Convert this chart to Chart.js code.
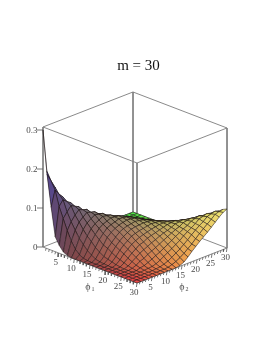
<!DOCTYPE html>
<html>
<head>
<meta charset="utf-8">
<title>m = 30</title>
<script src="https://cdn.jsdelivr.net/npm/chart.js@4"></script>
<style>
    html, body { margin: 0; background: #fff; }
    canvas { display: block; }
</style>
</head>
<body>
<canvas id="chartCanvas" width="277" height="358"></canvas>
<script>
// Grid positions along both axes
const phiGrid = [0, 1.3, 2.6, 3.9, 5.2, 6.5, 7.8, 9.1, 10.4, 11.7, 13, 14.3, 15.7, 17, 18.3, 19.6, 20.9, 22.2, 23.5, 24.8, 26.1, 27.4, 28.7, 30];

// Surface heights, one row per phi1 value, one column per phi2 value
const heightRows = [
    [.3, .19, .11, .038, .02, .007, .002, 0, 0, 0, 0, 0, 0, 0, 0, 0, 0, 0, 0, 0, 0, 0, 0, 0],
    [.19, .17, .15, .112, .085, .058, .035, .018, .008, .003, .001, 0, 0, 0, 0, 0, 0, 0, 0, 0, 0, 0, 0, 0],
    [.11, .15, .136, .125, .098, .077, .059, .042, .03, .019, .011, .005, .002, .001, 0, 0, 0, 0, 0, 0, 0, 0, 0, 0],
    [.038, .112, .125, .117, .11, .09, .076, .061, .048, .038, .027, .019, .012, .009, .006, .003, .001, 0, 0, 0, 0, 0, 0, 0],
    [.02, .085, .098, .11, .105, .1, .085, .074, .063, .052, .043, .033, .029, .022, .016, .012, .008, .004, .002, 0, 0, 0, 0, 0],
    [.007, .058, .077, .09, .1, .096, .093, .081, .072, .064, .055, .049, .04, .034, .028, .023, .016, .011, .006, .003, .001, 0, 0, 0],
    [.002, .035, .059, .076, .085, .093, .09, .087, .078, .071, .065, .058, .05, .044, .038, .031, .025, .018, .012, .005, .002, 0, 0, 0],
    [0, .018, .042, .061, .074, .081, .087, .085, .083, .075, .07, .064, .059, .052, .045, .04, .032, .025, .016, .009, .003, .001, 0, 0],
    [0, .008, .03, .048, .063, .072, .078, .083, .081, .079, .073, .069, .064, .058, .053, .045, .039, .03, .022, .014, .006, .002, 0, 0],
    [0, .003, .019, .038, .052, .064, .071, .075, .079, .078, .077, .072, .067, .063, .056, .05, .042, .035, .027, .019, .011, .005, .001, 0],
    [0, .001, .011, .027, .043, .055, .065, .07, .073, .077, .076, .074, .069, .065, .059, .053, .048, .04, .032, .024, .017, .009, .004, 0],
    [0, 0, .005, .019, .033, .049, .058, .064, .069, .072, .074, .073, .071, .066, .061, .056, .051, .044, .037, .03, .023, .015, .008, .002],
    [0, 0, .002, .012, .029, .04, .05, .059, .064, .067, .069, .071, .069, .067, .063, .059, .054, .049, .043, .036, .029, .022, .014, .007],
    [0, 0, .001, .009, .022, .034, .044, .052, .058, .063, .065, .066, .067, .066, .065, .061, .057, .053, .048, .042, .036, .028, .021, .016],
    [0, 0, 0, .006, .016, .028, .038, .045, .053, .056, .059, .061, .063, .065, .064, .063, .06, .056, .053, .049, .042, .036, .029, .026],
    [0, 0, 0, .003, .012, .023, .031, .04, .045, .05, .053, .056, .059, .061, .063, .063, .063, .06, .058, .054, .05, .044, .037, .035],
    [0, 0, 0, .001, .008, .016, .025, .032, .039, .042, .048, .051, .054, .057, .06, .063, .064, .065, .062, .06, .057, .053, .047, .044],
    [0, 0, 0, 0, .004, .011, .018, .025, .03, .035, .04, .044, .049, .053, .056, .06, .065, .066, .068, .065, .063, .061, .056, .052],
    [0, 0, 0, 0, .002, .006, .012, .016, .022, .027, .032, .037, .043, .048, .053, .058, .062, .068, .07, .072, .07, .069, .065, .06],
    [0, 0, 0, 0, 0, .003, .005, .009, .014, .019, .024, .03, .036, .042, .049, .054, .06, .065, .072, .075, .078, .075, .073, .069],
    [0, 0, 0, 0, 0, .001, .002, .003, .006, .011, .017, .023, .029, .036, .042, .05, .057, .063, .07, .078, .081, .084, .081, .078],
    [0, 0, 0, 0, 0, 0, 0, .001, .002, .005, .009, .015, .022, .028, .036, .044, .053, .061, .069, .075, .084, .087, .09, .087],
    [0, 0, 0, 0, 0, 0, 0, 0, 0, .001, .004, .008, .014, .021, .029, .037, .047, .056, .065, .073, .081, .09, .093, .095],
    [0, 0, 0, 0, 0, 0, 0, 0, 0, 0, 0, .002, .007, .016, .026, .035, .044, .052, .06, .069, .078, .087, .095, .1],
];

// Tick labels
const phiTicks = [5, 10, 15, 20, 25, 30];
const heightTicks = [0, 0.1, 0.2, 0.3];
const heightTickLabels = ['0', '0.1', '0.2', '0.3'];

const phiMax = 30;
const boxTop = 0.3077;
const labelFont = '"Liberation Serif"';
const labelColor = '#4a4a4a';

// Function: oblique projection of the 3D box onto the page plane
function project(phi1, phi2, height) {
    return {
        x: 43 + phi1 * 94 / 30 + phi2 * 3,
        y: 247 + phi1 * 1.2 - phi2 * 35 / 30 - height * 390,
    };
}

// Function: colour from position, red follows phi1, green phi2, blue height
function cellColor(phi1, phi2, height) {
    const r = Math.round(78 + 160 * phi1 / phiMax);
    const g = Math.round(68 + 165 * phi2 / phiMax);
    const b = Math.round(72 + 420 * height);
    return `rgb(${r}, ${g}, ${b})`;
}

// Function: one filled mesh cell
function surfaceCell(i, j) {
    const corners = [[i, j], [i + 1, j], [i + 1, j + 1], [i, j + 1], [i, j]];
    const points = corners.map(c => project(phiGrid[c[0]], phiGrid[c[1]], heightRows[c[0]][c[1]]));
    const meanHeight = corners.slice(0, 4).reduce((sum, c) => sum + heightRows[c[0]][c[1]], 0) / 4;
    const midPhi1 = (phiGrid[i] + phiGrid[i + 1]) / 2;
    const midPhi2 = (phiGrid[j] + phiGrid[j + 1]) / 2;
    return {
        data: points,
        backgroundColor: cellColor(midPhi1, midPhi2, meanHeight),
        borderColor: 'rgba(25, 15, 15, 0.68)',
        borderWidth: 0.75,
        fill: 'shape',
    };
}

// Function: a set of separate line pieces as one dataset
function linePieces(pieces, color, width) {
    const data = [];
    pieces.forEach(piece => {
        data.push(piece[0], piece[1], { x: NaN, y: NaN });
    });
    return { data: data, borderColor: color, borderWidth: width, fill: false };
}

const datasets = [];

// Axis ticks go on top
const axisTicks = [];
for (let t = 1; t <= phiMax; t++) {
    const len = t % 5 === 0 ? 4 : 2.5;
    const a = project(t, 0, 0);
    const b = project(phiMax, t, 0);
    axisTicks.push([a, { x: a.x - 0.6, y: a.y + len }]);
    axisTicks.push([b, { x: b.x - 0.6, y: b.y + len }]);
}
heightTicks.forEach(h => {
    const a = project(0, 0, h);
    axisTicks.push([{ x: a.x - 6, y: a.y }, a]);
});
datasets.push(linePieces(axisTicks, '#555555', 0.8));

// Front cells come first, Chart.js paints the first dataset last
for (let i = phiGrid.length - 2; i >= 0; i--) {
    for (let j = 0; j < phiGrid.length - 1; j++) {
        datasets.push(surfaceCell(i, j));
    }
}

// The box sits behind the surface
const c = (p1, p2, h) => project(p1, p2, h);
datasets.push(linePieces([
    [c(0, 0, boxTop), c(0, phiMax, boxTop)],
    [c(0, phiMax, boxTop), c(phiMax, phiMax, boxTop)],
    [c(phiMax, phiMax, boxTop), c(phiMax, 0, boxTop)],
    [c(phiMax, 0, boxTop), c(0, 0, boxTop)],
    [c(0, 0, boxTop), c(0, 0, 0)],
    [c(0, phiMax, boxTop), c(0, phiMax, 0)],
    [c(phiMax, phiMax, boxTop), c(phiMax, phiMax, 0)],
    [c(phiMax, 0, boxTop), c(phiMax, 0, 0)],
    [c(0, 0, 0), c(phiMax, 0, 0)],
    [c(phiMax, 0, 0), c(phiMax, phiMax, 0)],
    [c(phiMax, phiMax, 0), c(0, phiMax, 0)],
    [c(0, phiMax, 0), c(0, 0, 0)],
], '#7d7d7d', 0.9));

// Plugin: tick labels and axis names of the 3D box
const boxLabels = {
    id: 'boxLabels',
    afterDraw(chart) {
        const ctx = chart.ctx;
        const sx = chart.scales.x;
        const sy = chart.scales.y;
        const put = (text, pos, dx, dy, size) => {
            ctx.font = `${size}px ${labelFont}`;
            ctx.fillText(text, sx.getPixelForValue(pos.x) + dx, sy.getPixelForValue(pos.y) + dy);
        };
        ctx.save();
        ctx.fillStyle = labelColor;
        ctx.textBaseline = 'middle';
        ctx.textAlign = 'right';
        heightTicks.forEach((h, k) => {
            put(heightTickLabels[k], project(0, 0, h), -5.5, 0.5, 9);
        });
        ctx.textAlign = 'center';
        phiTicks.forEach(t => {
            put(String(t), project(t, 0, 0), -3, 10, 9);
            put(String(t), project(phiMax, t, 0), -1.5, 10, 9);
        });
        const origin = project(0, 0, 0);
        put('ϕ', origin, 45, 40, 10);
        put('1', origin, 50, 42, 6);
        put('ϕ', origin, 139, 40, 10);
        put('2', origin, 144, 42, 6);
        ctx.restore();
    },
};

const chart = new Chart(document.getElementById('chartCanvas'), {
    type: 'line',
    data: { datasets: datasets },
    plugins: [boxLabels],
    options: {
        responsive: false,
        animation: false,
        events: [],
        spanGaps: false,
        layout: { padding: 0 },
        elements: {
            point: { radius: 0 },
            line: { tension: 0, capBezierPoints: false, borderJoinStyle: 'round' },
        },
        plugins: {
            legend: { display: false },
            tooltip: { enabled: false },
            title: {
                display: true,
                text: 'm = 30',
                color: '#111111',
                font: { family: labelFont, size: 15, weight: 'normal' },
                padding: { top: 57, bottom: 0 },
            },
        },
        scales: {
            x: { type: 'linear', display: false, min: 0, max: 277 },
            y: { type: 'linear', display: false, min: 75, max: 358, reverse: true },
        },
    },
});
</script>
</body>
</html>
